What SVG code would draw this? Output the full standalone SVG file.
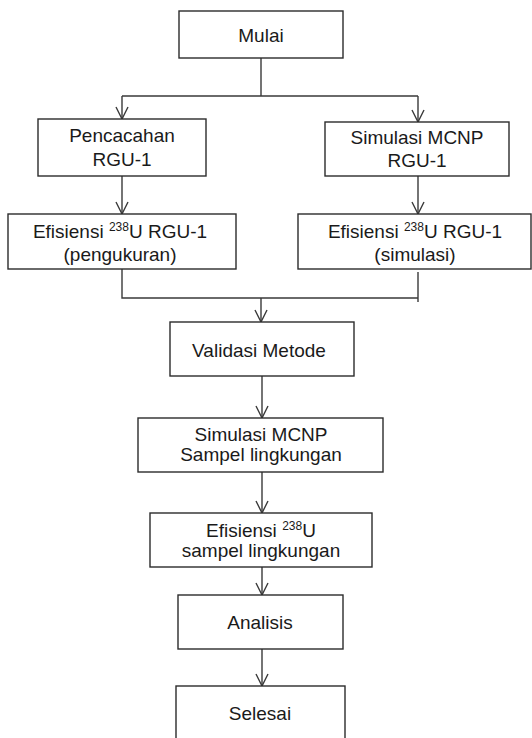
<svg xmlns="http://www.w3.org/2000/svg" width="532" height="738" viewBox="0 0 532 738">
<style>
.box{fill:#fff;stroke:#2b2b2b;stroke-width:1.4}
.ln{fill:none;stroke:#3a3a3a;stroke-width:1.4}
text{font-family:"Liberation Sans",Arial,sans-serif;font-size:19px;fill:#1a1a1a;text-anchor:middle}
.sup{font-size:12px}
</style>
<defs>
<marker id="ah" viewBox="0 0 14 14" refX="13" refY="7" markerWidth="14" markerHeight="14" markerUnits="userSpaceOnUse" orient="auto">
<path d="M1,1 L13,7 L1,13" fill="none" stroke="#3a3a3a" stroke-width="1.4"/>
</marker>
</defs>
<g id="connectors">
<path class="ln" d="M261,58 V96 M122,96 H418"/>
<path class="ln" d="M122,96 V119" marker-end="url(#ah)"/>
<path class="ln" d="M418,96 V122" marker-end="url(#ah)"/>
<path class="ln" d="M122,176 V214" marker-end="url(#ah)"/>
<path class="ln" d="M418,176 V214" marker-end="url(#ah)"/>
<path class="ln" d="M122,269 V298 H418 M418,272 V302"/>
<path class="ln" d="M261,298 V322" marker-end="url(#ah)"/>
<path class="ln" d="M262,376 V418" marker-end="url(#ah)"/>
<path class="ln" d="M262,472 V513" marker-end="url(#ah)"/>
<path class="ln" d="M262,567 V595" marker-end="url(#ah)"/>
<path class="ln" d="M262,649 V686" marker-end="url(#ah)"/>
</g>
<g id="mulai"><rect class="box" x="179" y="11" width="164" height="47"/><text x="261" y="42">Mulai</text></g>
<g id="pencacahan"><rect class="box" x="38" y="119" width="168" height="57"/><text x="122" y="142">Pencacahan</text><text x="122" y="166">RGU-1</text></g>
<g id="simulasi-rgu"><rect class="box" x="325" y="122" width="184" height="54"/><text x="417" y="144">Simulasi MCNP</text><text x="417" y="167">RGU-1</text></g>
<g id="efisiensi-pengukuran"><rect class="box" x="8" y="214" width="228" height="55"/><text x="120" y="238">Efisiensi <tspan class="sup" dy="-7">238</tspan><tspan dy="7">U RGU-1</tspan></text><text x="120" y="261">(pengukuran)</text></g>
<g id="efisiensi-simulasi"><rect class="box" x="298" y="214" width="233" height="55"/><text x="415" y="238">Efisiensi <tspan class="sup" dy="-7">238</tspan><tspan dy="7">U RGU-1</tspan></text><text x="415" y="261">(simulasi)</text></g>
<g id="validasi"><rect class="box" x="170" y="322" width="184" height="54"/><text x="259" y="357">Validasi Metode</text></g>
<g id="simulasi-sampel"><rect class="box" x="138" y="418" width="245" height="54"/><text x="261" y="441">Simulasi MCNP</text><text x="261" y="461">Sampel lingkungan</text></g>
<g id="efisiensi-sampel"><rect class="box" x="150" y="513" width="222" height="54"/><text x="261" y="537">Efisiensi <tspan class="sup" dy="-7">238</tspan><tspan dy="7">U</tspan></text><text x="261" y="557">sampel lingkungan</text></g>
<g id="analisis"><rect class="box" x="178" y="595" width="165" height="54"/><text x="260" y="629">Analisis</text></g>
<g id="selesai"><rect class="box" x="176" y="686" width="169" height="60"/><text x="260" y="720">Selesai</text></g>
</svg>
